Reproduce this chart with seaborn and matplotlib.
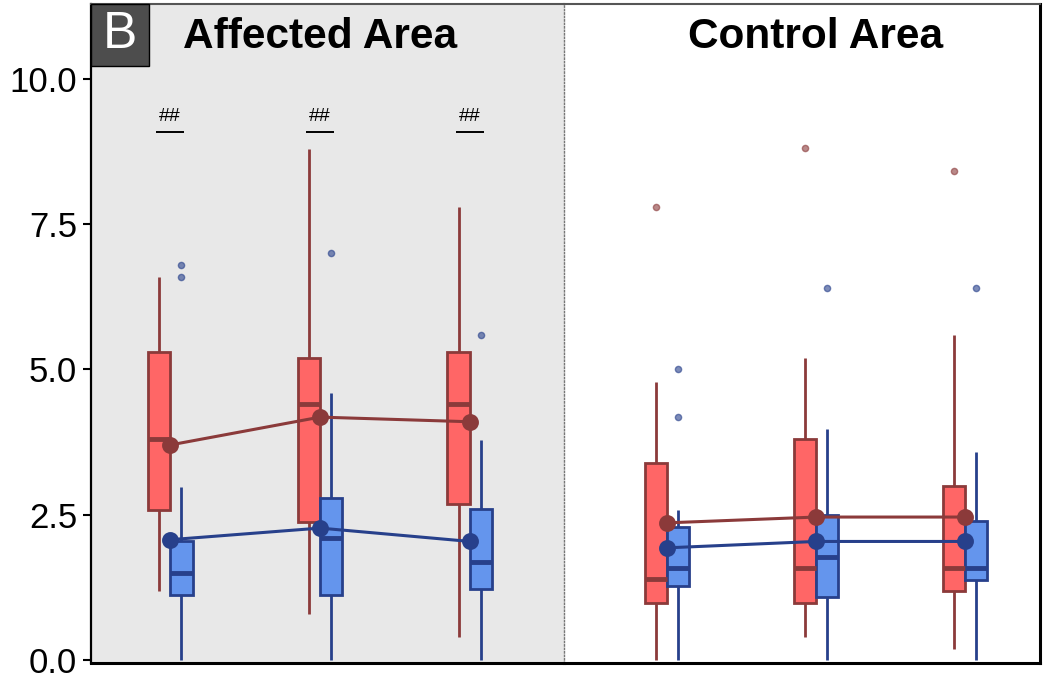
import numpy as np
import pandas as pd
import matplotlib
matplotlib.use("Agg")
import matplotlib.pyplot as plt
import seaborn as sns
from matplotlib.patches import Rectangle

# ---------------- data ----------------
panels = ["Affected Area", "Control Area"]
times = ["T1", "T2", "T3"]
groups = ["Group 1", "Group 2"]

# Affected area, red series
aff_red_wlo = [1.19, 0.79, 0.39]
aff_red_q1 = [2.58, 2.38, 2.68]
aff_red_med = [3.80, 4.41, 4.41]
aff_red_q3 = [5.30, 5.20, 5.30]
aff_red_whi = [6.59, 8.80, 7.80]
aff_red_out = [[], [], []]
aff_red_mean = [3.70, 4.18, 4.10]

# Affected area, blue series
aff_blue_wlo = [0.0, 0.0, 0.0]
aff_blue_q1 = [1.12, 1.12, 1.23]
aff_blue_med = [1.49, 2.10, 1.69]
aff_blue_q3 = [2.04, 2.79, 2.59]
aff_blue_whi = [2.98, 4.59, 3.79]
aff_blue_out = [[6.60, 6.80], [7.00], [5.60]]
aff_blue_mean = [2.07, 2.27, 2.04]

# Control area, red series
ctl_red_wlo = [0.0, 0.39, 0.19]
ctl_red_q1 = [0.98, 0.98, 1.18]
ctl_red_med = [1.39, 1.59, 1.59]
ctl_red_q3 = [3.39, 3.80, 3.00]
ctl_red_whi = [4.79, 5.19, 5.59]
ctl_red_out = [[7.80], [8.81], [8.42]]
ctl_red_mean = [2.36, 2.46, 2.46]

# Control area, blue series
ctl_blue_wlo = [0.0, 0.0, 0.0]
ctl_blue_q1 = [1.28, 1.08, 1.38]
ctl_blue_med = [1.59, 1.78, 1.59]
ctl_blue_q3 = [2.29, 2.50, 2.39]
ctl_blue_whi = [2.58, 3.98, 3.58]
ctl_blue_out = [[4.19, 5.00], [6.40], [6.40]]
ctl_blue_mean = [1.93, 2.04, 2.04]

sig_marks = {"Affected Area": ["##", "##", "##"], "Control Area": ["", "", ""]}
panel_letter = "B"

fills = ["#FF6666", "#6495ED"]
edges = ["#8B3A3A", "#27408B"]

stats = {
    ("Affected Area", "Group 1"): (aff_red_wlo, aff_red_q1, aff_red_med, aff_red_q3, aff_red_whi, aff_red_out, aff_red_mean),
    ("Affected Area", "Group 2"): (aff_blue_wlo, aff_blue_q1, aff_blue_med, aff_blue_q3, aff_blue_whi, aff_blue_out, aff_blue_mean),
    ("Control Area", "Group 1"): (ctl_red_wlo, ctl_red_q1, ctl_red_med, ctl_red_q3, ctl_red_whi, ctl_red_out, ctl_red_mean),
    ("Control Area", "Group 2"): (ctl_blue_wlo, ctl_blue_q1, ctl_blue_med, ctl_blue_q3, ctl_blue_whi, ctl_blue_out, ctl_blue_mean),
}


def sample_from_summary(wlo, q1, med, q3, whi, out):
    """Small sample whose linear-interpolated quartiles equal q1/med/q3
    and whose whisker ends / outliers equal the read values."""
    k = len(out) + 1
    return [wlo] + [q1] * k + [med] * k + [q3] * k + [whi] + list(out)


rows, mean_rows = [], []
for (panel, grp), (wlo, q1, med, q3, whi, out, mean) in stats.items():
    for i, t in enumerate(times):
        for v in sample_from_summary(wlo[i], q1[i], med[i], q3[i], whi[i], out[i]):
            rows.append({"panel": panel, "time": t, "group": grp, "value": v})
        mean_rows.append({"panel": panel, "time": t, "group": grp, "mean": mean[i]})
df = pd.DataFrame(rows)
means = pd.DataFrame(mean_rows)

# ---------------- style ----------------
sns.set_theme(style="white")
plt.rcParams["font.family"] = ["Liberation Sans", "DejaVu Sans"]

fig = plt.figure(figsize=(10.47, 6.78), dpi=100)
W, H = 1047, 678
x0, xm, x1 = 91, 564, 1040
yb, yt = 663, 4
ax_l = fig.add_axes([x0 / W, 1 - yb / H, (xm - x0) / W, (yb - yt) / H])
ax_r = fig.add_axes([xm / W, 1 - yb / H, (x1 - xm) / W, (yb - yt) / H], sharey=ax_l)

ylim = (-0.052, 11.29)
xlims = {"Affected Area": (-0.527, 2.627), "Control Area": (-0.691, 2.503)}
bgs = {"Affected Area": "#E8E8E8", "Control Area": "white"}

for ax, panel in zip([ax_l, ax_r], panels):
    ax.set_facecolor(bgs[panel])
    sub = df[df.panel == panel]
    sns.boxplot(data=sub, x="time", y="value", hue="group", order=times,
                hue_order=groups, palette=fills, width=0.3, saturation=1,
                linewidth=2, whis=1.5, showcaps=False, legend=False,
                flierprops=dict(marker="o", markersize=4.5, alpha=0.6),
                medianprops=dict(linewidth=3.5), ax=ax)
    for cont, ec in zip(ax.containers, edges):
        for b in cont.boxes:
            b.set_edgecolor(ec)
        for ln in list(cont.whiskers) + list(cont.medians):
            ln.set_color(ec)
        for ln in cont.fliers:
            ln.set_markerfacecolor(ec)
            ln.set_markeredgecolor(ec)
    n_before = len(ax.lines)
    sns.pointplot(data=means[means.panel == panel], x="time", y="mean",
                  hue="group", order=times, hue_order=groups, palette=edges,
                  markers="o", errorbar=None, dodge=False, legend=False,
                  markersize=10.5, linewidth=2.2, ax=ax)
    for ln in ax.lines[n_before:]:
        ln.set_zorder(6)
    for c in ax.collections:
        c.set_zorder(6)

    # significance marks
    for i, s in enumerate(sig_marks[panel]):
        if s:
            ax.text(i, 9.36, s, ha="center", va="center", fontsize=14,
                    color="black")
            ax.plot([i - 0.095, i + 0.095], [9.09, 9.09], color="black",
                    lw=1.4, solid_capstyle="butt")
    # panel title, centred on middle time point
    ax.text(1, 10.72, panel, ha="center", va="center", fontsize=30.5,
            fontweight="bold", color="black")

    ax.set_xlim(*xlims[panel])
    ax.set_ylim(*ylim)
    ax.set_xlabel("")
    ax.set_ylabel("")
    ax.set_xticks([])
    for side in ["left", "right", "top", "bottom"]:
        ax.spines[side].set_visible(True)
    ax.spines["top"].set_color("#555555")
    ax.spines["top"].set_linewidth(1.5)
    ax.spines["bottom"].set_color("black")
    ax.spines["bottom"].set_linewidth(2.2)

# left axis decorations
ax_l.spines["left"].set_color("black")
ax_l.spines["left"].set_linewidth(1.6)
ax_l.spines["right"].set_visible(False)
ax_l.set_yticks([0, 2.5, 5, 7.5, 10])
ax_l.set_yticklabels(["0.0", "2.5", "5.0", "7.5", "10.0"])
ax_l.tick_params(axis="y", which="both", left=True, direction="out",
                 length=6, width=1.5, color="black", labelsize=25,
                 labelcolor="black", pad=4)

ax_r.spines["left"].set_color("#777777")
ax_r.spines["left"].set_linewidth(1.0)
ax_r.spines["left"].set_linestyle((0, (1, 1.5)))
ax_r.spines["right"].set_color("black")
ax_r.spines["right"].set_linewidth(2.2)
ax_r.tick_params(axis="y", left=False, labelleft=False)

# panel letter box
ax_l.add_patch(Rectangle((0, 1 - 62 / 659), 58 / 473, 62 / 659,
                         transform=ax_l.transAxes, facecolor="#4D4D4D",
                         edgecolor="black", lw=1, zorder=10, clip_on=False))
ax_l.text(29 / 473, 1 - 31 / 659, panel_letter, transform=ax_l.transAxes,
          ha="center", va="center", fontsize=37, color="white", zorder=11)

fig.savefig("out.png", dpi=100)
